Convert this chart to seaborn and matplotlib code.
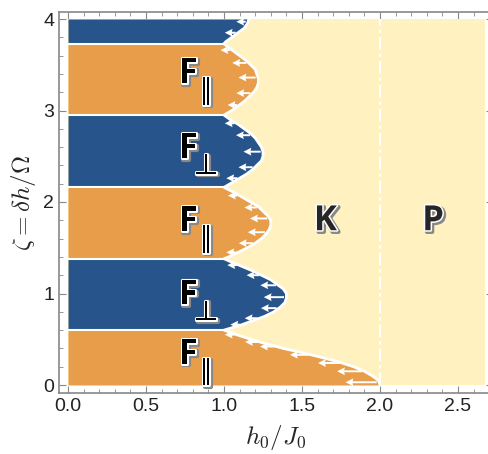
import numpy as np
import matplotlib
matplotlib.use("Agg")
import matplotlib.pyplot as plt
import matplotlib.patheffects as pe
from matplotlib.ticker import MultipleLocator
import seaborn as sns

# phase boundary: zeta (y) vs critical h0/J0 (x)
zeta = [0.00, 0.05, 0.10, 0.15, 0.20, 0.25, 0.30, 0.35, 0.40, 0.45, 0.50, 0.55, 0.60,
        0.65, 0.70, 0.75, 0.80, 0.85, 0.90, 0.95, 1.00, 1.05, 1.10, 1.15, 1.20, 1.25, 1.30, 1.35, 1.38,
        1.40, 1.45, 1.50, 1.55, 1.60, 1.65, 1.70, 1.75, 1.80, 1.85, 1.90, 1.95, 2.00, 2.05, 2.10, 2.16,
        2.20, 2.25, 2.30, 2.35, 2.40, 2.45, 2.50, 2.55, 2.60, 2.65, 2.70, 2.75, 2.80, 2.85, 2.90, 2.95,
        3.00, 3.05, 3.10, 3.15, 3.20, 3.25, 3.30, 3.35, 3.40, 3.45, 3.50, 3.55, 3.60, 3.65, 3.70, 3.73,
        3.75, 3.80, 3.85, 3.90, 3.95, 4.00]
h_crit = [2.00, 1.99, 1.95, 1.90, 1.83, 1.74, 1.63, 1.51, 1.38, 1.27, 1.17, 1.08, 1.00,
          1.10, 1.18, 1.26, 1.32, 1.36, 1.39, 1.40, 1.40, 1.38, 1.34, 1.30, 1.24, 1.18, 1.11, 1.04, 1.00,
          1.03, 1.09, 1.15, 1.20, 1.24, 1.27, 1.29, 1.30, 1.30, 1.28, 1.25, 1.22, 1.17, 1.12, 1.07, 1.00,
          1.04, 1.09, 1.14, 1.18, 1.21, 1.24, 1.25, 1.25, 1.24, 1.22, 1.20, 1.17, 1.13, 1.09, 1.04, 1.00,
          1.05, 1.09, 1.13, 1.16, 1.19, 1.21, 1.22, 1.22, 1.21, 1.20, 1.17, 1.14, 1.10, 1.06, 1.02, 1.00,
          1.01, 1.05, 1.09, 1.13, 1.15, 1.16]

band_edges = [0.0, 0.60, 1.38, 2.16, 2.95, 3.73, 4.0]
band_phase = ["par", "perp", "par", "perp", "par", "perp"]

# flow arrows on the boundary (zeta position, length in h0/J0)
arrow_zeta = [0.03, 0.15, 0.24, 0.33, 0.42, 0.47, 0.55,
              0.66, 0.73, 0.84, 0.96, 1.09, 1.20, 1.31,
              1.45, 1.55, 1.67, 1.82, 1.94, 2.07,
              2.26, 2.38, 2.55, 2.73, 2.86,
              3.06, 3.19, 3.36, 3.52, 3.66,
              3.85, 3.97]
arrow_len = [0.20, 0.16, 0.14, 0.12, 0.09, 0.08, 0.06,
             0.06, 0.08, 0.10, 0.13, 0.10, 0.08, 0.06,
             0.06, 0.09, 0.11, 0.11, 0.08, 0.06,
             0.07, 0.09, 0.11, 0.09, 0.06,
             0.06, 0.09, 0.11, 0.09, 0.06,
             0.07, 0.06]

label_zeta = [0.33, 0.98, 1.78, 2.58, 3.40]
label_sub = ["\u2225", "\u22a5", "\u2225", "\u22a5", "\u2225"]
label_x = 0.77
k_pos = (1.65, 1.79)
p_pos = (2.34, 1.79)
h_kp = 2.0
h_max = 2.67

orange = "#E89D4A"
blue = "#27548A"
yellow = "#FFF2C0"

sns.set_theme(style="ticks")
plt.rcParams["font.family"] = ["Liberation Sans", "DejaVu Sans"]
plt.rcParams["mathtext.fontset"] = "cm"

zeta = np.array(zeta)
h_crit = np.array(h_crit)

fig = plt.figure(figsize=(4.88, 4.54), dpi=100)
ax = fig.add_axes([59 / 488, 61 / 454, 434 / 488, 381 / 454])

ax.fill_betweenx([0, 4], 0, h_max, color=yellow, lw=0)
for lo, hi, ph in zip(band_edges[:-1], band_edges[1:], band_phase):
    m = (zeta >= lo - 1e-9) & (zeta <= hi + 1e-9)
    ax.fill_betweenx(zeta[m], 0, h_crit[m], color=orange if ph == "par" else blue, lw=0)

ax.hlines(band_edges[1:-1], 0, 1.0, color="white", lw=1.5)
sns.lineplot(x=h_crit, y=zeta, orient="y", sort=False, color="white", lw=2, ax=ax)
ax.plot([h_kp, h_kp], [0, 4], color="white", lw=1.5, ls=(0, (6, 2, 1.5, 2)))

tails = np.interp(arrow_zeta, zeta, h_crit) - 0.015
ax.quiver(tails, arrow_zeta, -np.array(arrow_len), np.zeros(len(arrow_len)),
          angles="xy", scale_units="xy", scale=1, color="white",
          width=0.0045, headwidth=4, headlength=4, headaxislength=3.6, zorder=5)

fx = [pe.Stroke(linewidth=3, foreground="#888888", offset=(1.2, -1.2)),
      pe.Stroke(linewidth=2.2, foreground="white"), pe.Normal()]
for z, sub in zip(label_zeta, label_sub):
    ax.text(label_x, z, "F", fontsize=25, fontweight="bold", family=["Open Sans", "DejaVu Sans"],
            ha="center", va="center", color="black", path_effects=fx, zorder=6)
    ax.annotate(sub, (label_x, z), xytext=(13, -12), textcoords="offset points",
                fontsize=20, family=["DejaVu Sans"],
                ha="center", va="center", color="black", path_effects=fx, zorder=6)
ax.text(*k_pos, "K", fontsize=25, fontweight="bold", family=["Open Sans", "DejaVu Sans"],
        ha="center", va="center", path_effects=fx, zorder=6)
ax.text(*p_pos, "P", fontsize=25, fontweight="bold", family=["Open Sans", "DejaVu Sans"],
        ha="center", va="center", path_effects=fx, zorder=6)

ax.set_xlim(-9 / 156, -9 / 156 + 434 / 156)
ax.set_ylim(-8 / 91.5, -8 / 91.5 + 381 / 91.5)
ax.xaxis.set_major_locator(MultipleLocator(0.5))
ax.xaxis.set_minor_locator(MultipleLocator(0.1))
ax.yaxis.set_major_locator(MultipleLocator(1))
ax.yaxis.set_minor_locator(MultipleLocator(0.2))
ax.xaxis.set_major_formatter(matplotlib.ticker.FormatStrFormatter("%.1f"))
ax.tick_params(which="both", direction="in", top=True, right=True, color="#888888",
               labelsize=14, labelcolor="#222222")
ax.tick_params(which="major", length=5, width=0.8)
ax.tick_params(which="minor", length=3, width=0.6)
for s in ax.spines.values():
    s.set_color("#888888")
    s.set_linewidth(1.2)

ax.set_xlabel(r"$h_0/J_0$", fontsize=18, labelpad=6)
ax.set_ylabel(r"$\zeta = \delta h/\Omega$", fontsize=18, labelpad=4)

fig.savefig("out.png", dpi=100)
